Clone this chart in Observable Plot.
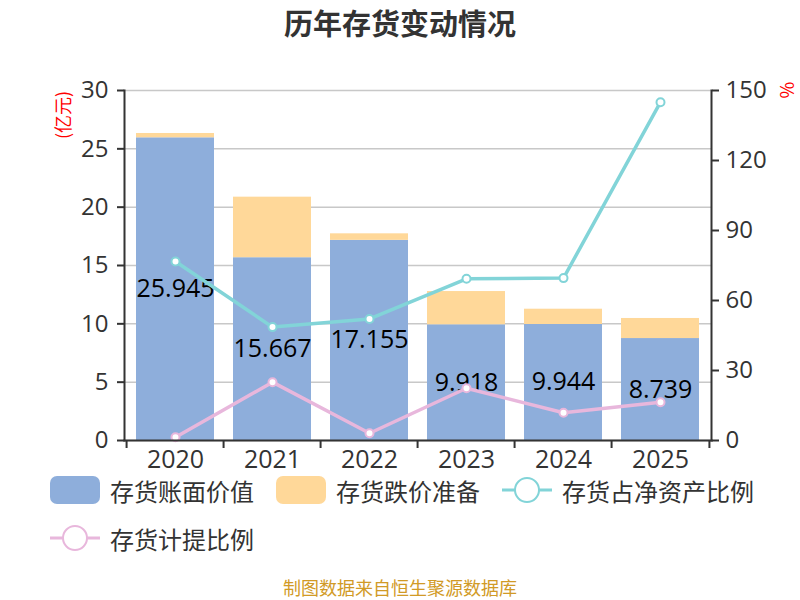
<!DOCTYPE html>
<html>
<head>
<meta charset="utf-8">
<script src="https://cdn.jsdelivr.net/npm/d3@7"></script>
<script src="https://cdn.jsdelivr.net/npm/@observablehq/plot@0.6"></script>
<style>
  html, body { margin: 0; padding: 0; background: #fff; }
  body { width: 800px; height: 600px; position: relative; overflow: hidden;
         font-family: "Open Sans", "Noto Sans CJK SC", sans-serif; color: #333; }
  #title { position: absolute; left: 0; top: 2px; width: 800px; text-align: center;
           font-size: 29px; font-weight: bold; color: #333; line-height: 40px;
           font-family: "Noto Sans CJK SC", sans-serif; }
  #chart { position: absolute; left: 0; top: 45px; }
  .unit { position: absolute; color: #ff0000; font-size: 18px; font-family: "Noto Sans CJK SC", sans-serif; white-space: nowrap; }
  #unitL { left: 62px; top: 115px; transform: translate(-50%, -50%) rotate(-90deg); }
  #unitR { left: 788px; top: 90px; transform: translate(-50%, -50%) rotate(90deg); }
  #legend { position: absolute; left: 50px; top: 476px; width: 740px; display: flex; flex-wrap: wrap;
            column-gap: 22px; row-gap: 20px; font-family: "Noto Sans CJK SC", sans-serif; font-size: 24px; color: #333; }
  .item { display: flex; align-items: center; height: 28px; }
  .item svg { margin-right: 10px; }
  #caption { position: absolute; left: 0; top: 576px; width: 800px; text-align: center;
             font-family: "Noto Sans CJK SC", sans-serif; font-size: 18px; color: #d19a26; line-height: 22px; }
</style>
</head>
<body>
<div id="title">历年存货变动情况</div>
<div id="chart"></div>
<div class="unit" id="unitL">(亿元)</div>
<div class="unit" id="unitR">%</div>
<div id="legend"></div>
<div id="caption">制图数据来自恒生聚源数据库</div>
<script>
// ---- data ----
const years = ["2020", "2021", "2022", "2023", "2024", "2025"];
const bookValue = [25.945, 15.667, 17.155, 9.918, 9.944, 8.739];      // 存货账面价值 (亿元)
const impairment = [0.37, 5.19, 0.56, 2.85, 1.31, 1.72];              // 存货跌价准备 (亿元)
const netAssetRatio = [76.7, 48.6, 52.1, 69.3, 69.6, 145.0];          // 存货占净资产比例 (%)
const provisionRatio = [1.4, 25.0, 3.1, 22.4, 11.9, 16.4];            // 存货计提比例 (%)
const leftTicks = [0, 5, 10, 15, 20, 25, 30];
const rightTicks = [0, 30, 60, 90, 120, 150];
const seriesNames = ["存货账面价值", "存货跌价准备", "存货占净资产比例", "存货计提比例"];
const colors = ["#8eaedb", "#ffd899", "#82d4d8", "#e8b7dc"];

const ratioFactor = 30 / 150; // right axis (0–150%) mapped onto left axis (0–30)

const rows = years.map((year, i) => ({
  year,
  book: bookValue[i],
  imp: impairment[i],
  ratioA: netAssetRatio[i],
  ratioB: provisionRatio[i]
}));

const font = "'Open Sans', 'Noto Sans CJK SC', sans-serif";

const chart = Plot.plot({
  width: 800,
  height: 435,
  marginTop: 45,
  marginBottom: 40,
  marginLeft: 124,
  marginRight: 89,
  style: { fontSize: "24px", fontFamily: font, color: "#333", background: "transparent", overflow: "visible" },
  x: { domain: years, paddingInner: 0.2, paddingOuter: 0.1, label: null },
  y: { domain: [0, 30], label: null },
  marks: [
    Plot.gridY(leftTicks, { stroke: "#c8c8c8", strokeOpacity: 1, strokeWidth: 1.5 }),
    Plot.barY(rows, { x: "year", y1: 0, y2: "book", fill: colors[0] }),
    Plot.barY(rows, { x: "year", y1: "book", y2: d => d.book + d.imp, fill: colors[1] }),
    Plot.text(rows, { x: "year", y: d => d.book / 2, text: d => String(d.book), fill: "#000", fontSize: 25 }),
    Plot.line(rows, { x: "year", y: d => d.ratioA * ratioFactor, stroke: colors[2], strokeWidth: 3.5 }),
    Plot.dot(rows, { x: "year", y: d => d.ratioA * ratioFactor, r: 4, fill: "#fff", stroke: colors[2], strokeWidth: 2 }),
    Plot.line(rows, { x: "year", y: d => d.ratioB * ratioFactor, stroke: colors[3], strokeWidth: 3.5 }),
    Plot.dot(rows, { x: "year", y: d => d.ratioB * ratioFactor, r: 4, fill: "#fff", stroke: colors[3], strokeWidth: 2 }),
    Plot.frame({ anchor: "left", stroke: "#333", strokeWidth: 2 }),
    Plot.frame({ anchor: "right", stroke: "#333", strokeWidth: 2 }),
    Plot.frame({ anchor: "bottom", stroke: "#333", strokeWidth: 2 }),
    Plot.axisY(leftTicks, { anchor: "left", tickSize: 7, tickPadding: 9, strokeWidth: 2, label: null, fill: "#333" }),
    Plot.axisY(rightTicks.map(v => v * ratioFactor), { anchor: "right", tickSize: 7, tickPadding: 7, strokeWidth: 2,
      tickFormat: v => String(Math.round(v / ratioFactor)), label: null, fill: "#333" }),
    Plot.axisX(years, { anchor: "bottom", tickSize: 8, strokeWidth: 2, dx: -48.92, tickFormat: () => "", label: null }),
    Plot.axisX([years[years.length - 1]], { anchor: "bottom", tickSize: 8, strokeWidth: 2, dx: 48.92, tickFormat: () => "", label: null }),
    Plot.axisX(years, { anchor: "bottom", tickSize: 0, tickPadding: 10, label: null, fill: "#333", fontSize: 25 })
  ]
});
document.getElementById("chart").appendChild(chart);

// ---- legend ----
const legend = document.getElementById("legend");
seriesNames.forEach((name, i) => {
  const item = document.createElement("div");
  item.className = "item";
  let icon;
  if (i < 2) {
    icon = `<svg width="50" height="28"><rect x="0" y="0" width="50" height="28" rx="7" fill="${colors[i]}"/></svg>`;
  } else {
    icon = `<svg width="50" height="28"><line x1="0" x2="50" y1="14" y2="14" stroke="${colors[i]}" stroke-width="3"/>` +
           `<circle cx="25" cy="14" r="12" fill="#fff" stroke="${colors[i]}" stroke-width="2"/></svg>`;
  }
  item.innerHTML = icon + `<span>${name}</span>`;
  legend.appendChild(item);
});
</script>
</body>
</html>
